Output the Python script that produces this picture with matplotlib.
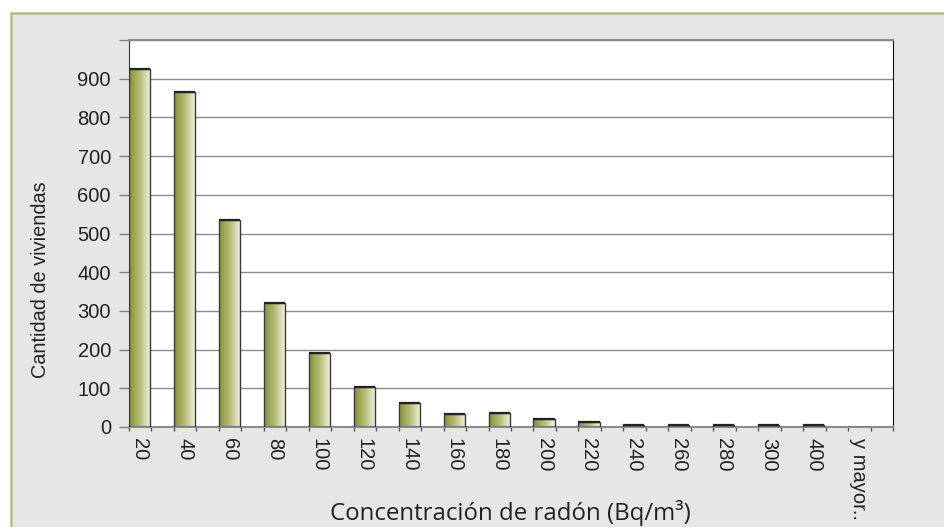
import numpy as np
import matplotlib
matplotlib.use("Agg")
import matplotlib.pyplot as plt
from matplotlib.colors import LinearSegmentedColormap
from matplotlib.patches import Rectangle

plt.rcParams['font.family'] = ['Liberation Sans', 'DejaVu Sans']

categories = ["20", "40", "60", "80", "100", "120", "140", "160", "180", "200",
              "220", "240", "260", "280", "300", "400", "y mayor.."]
counts = [925, 865, 535, 320, 190, 103, 62, 33, 36, 21, 14, 5, 4, 4, 4, 4, 0]

BG = "#e5e6e8"
BORDER = "#b9bb86"
grad = LinearSegmentedColormap.from_list("olive", ["#86933a", "#b6bd78", "#f4f3e8"])

fig = plt.figure(figsize=(9.45, 5.27), dpi=100)
fig.patch.set_facecolor("white")
# outer panel with olive border, running off the right and bottom edges
fig.patches.append(Rectangle((11 / 945, -0.1), 1.2, (527 - 13) / 527 + 0.1,
                             transform=fig.transFigure, facecolor=BG,
                             edgecolor=BORDER, linewidth=1.8, zorder=-10))

ax = fig.add_axes([129 / 945, 100 / 527, 764 / 945, 387 / 527])
ax.set_facecolor("white")

x = np.arange(len(categories))
bw = 0.47
bars = ax.bar(x, counts, width=bw, align="edge", color="none",
              edgecolor="#3a3a3a", linewidth=1.0, zorder=3)
g = np.linspace(0, 1, 64).reshape(1, -1)
for b in bars:
    if b.get_height() <= 0:
        continue
    im = ax.imshow(g, cmap=grad, aspect="auto", zorder=2,
                   extent=[b.get_x(), b.get_x() + b.get_width(), 0, b.get_height()])
    im.set_clip_path(b)
    # darker top cap
    ax.plot([b.get_x(), b.get_x() + b.get_width()], [b.get_height()] * 2,
            color="#222222", lw=1.6, zorder=4, solid_capstyle="butt")

ax.set_xlim(0, len(categories))
ax.set_ylim(0, 1000)

ax.set_yticks(np.arange(0, 1001, 100))
ax.set_yticklabels([str(v) for v in range(0, 901, 100)] + [""])
ax.yaxis.grid(True, color="#8c8c8c", linewidth=1.0, zorder=0)
ax.set_axisbelow(True)
ax.tick_params(axis="y", length=7, width=1, color="#808080", labelsize=14.5,
               labelcolor="#222222", pad=6)

ax.set_xticks(x + bw / 2)
ax.set_xticklabels(categories, rotation=270, fontsize=14.5, color="#222222")
ax.tick_params(axis="x", length=0, pad=8)
ax.set_xticks(np.arange(0, len(categories) + 0.01, 0.5), minor=True)
ax.tick_params(axis="x", which="minor", length=3, width=1, color="#555555")

ax.spines["left"].set_color("#333333")
ax.spines["right"].set_color("#111111")
ax.spines["top"].set_color("#8c8c8c")
ax.spines["top"].set_linewidth(1.5)
ax.spines["bottom"].set_color("#8c8c8c")
ax.spines["bottom"].set_linewidth(1.5)

ax.set_ylabel("Cantidad de viviendas", fontsize=14.3, color="#222222")
ax.yaxis.set_label_coords(-0.103, 0.38)
fig.text(510 / 945, 1 - 513 / 527, "Concentración de radón (Bq/m³)",
         ha="center", va="center", fontsize=17.3, color="#222222",
         family=["Open Sans", "DejaVu Sans"])

fig.savefig("out.png", dpi=100, facecolor=fig.get_facecolor())
